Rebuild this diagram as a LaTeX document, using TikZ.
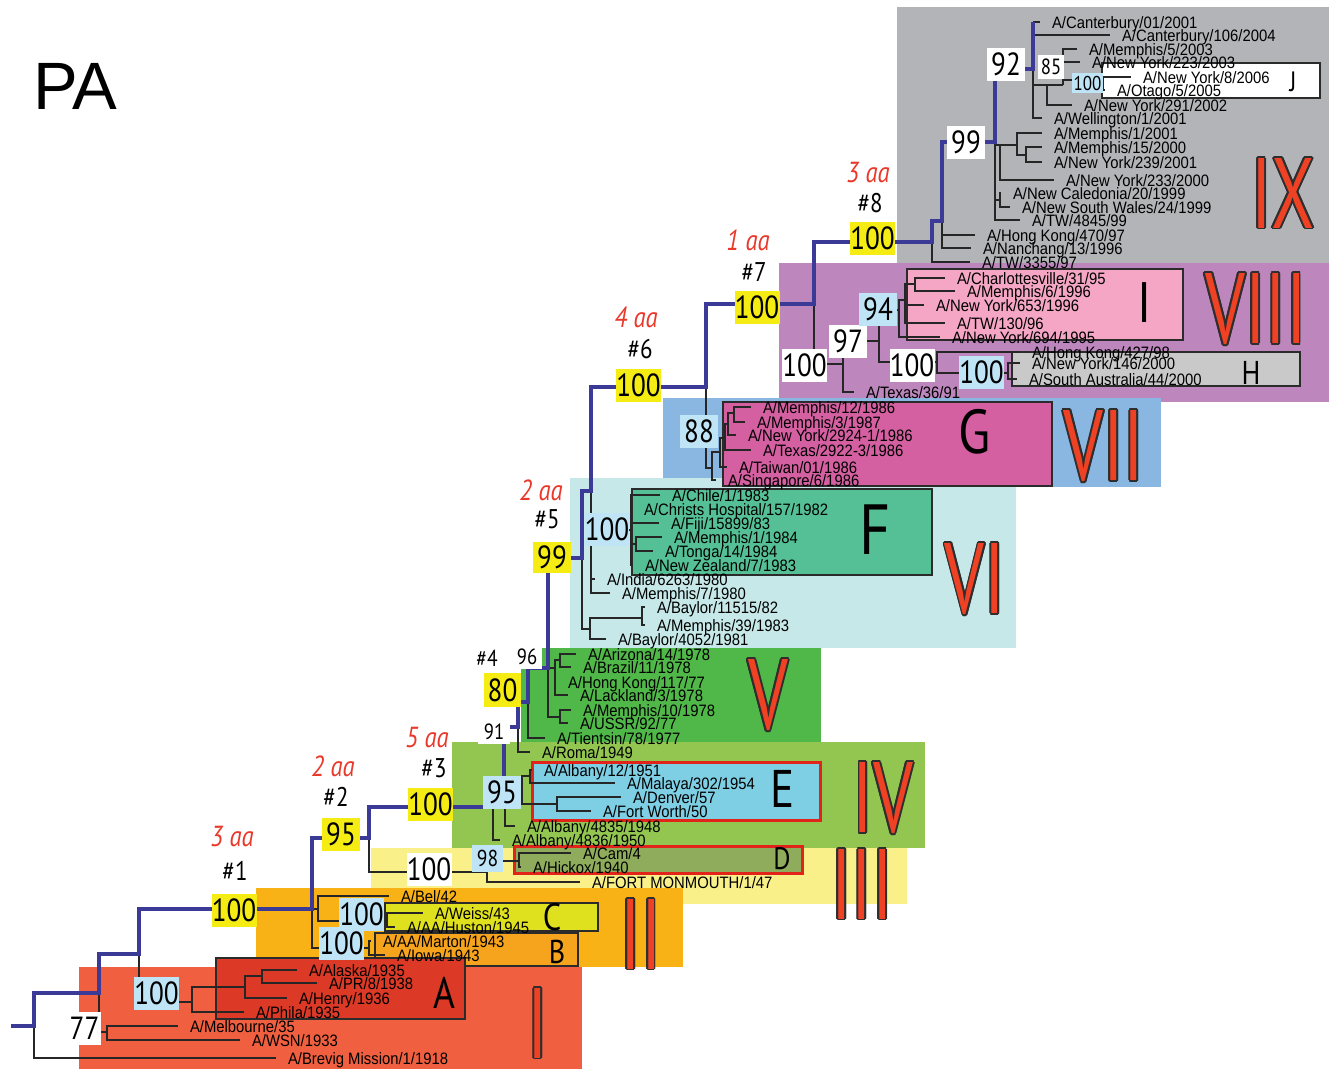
\documentclass[tikz,border=0pt]{standalone}
\usepackage{fontspec}
\setmainfont{Liberation Sans}
\newfontfamily\taxfont[FakeStretch=0.9]{Liberation Sans}
\newfontfamily\bsfont[FakeStretch=0.85]{PT Sans}
\newfontfamily\romfont[FakeStretch=0.7]{PT Sans}
\newfontfamily\letfont[FakeStretch=0.85]{PT Sans}
\usetikzlibrary{positioning}

\definecolor{cIX}{HTML}{B2B4B7}
\definecolor{cVIII}{HTML}{BD87BD}
\definecolor{cVII}{HTML}{8AB7E2}
\definecolor{cVI}{HTML}{C7E8E8}
\definecolor{cV}{HTML}{50B848}
\definecolor{cIV}{HTML}{93C650}
\definecolor{cIII}{HTML}{FAF08A}
\definecolor{cII}{HTML}{F9B215}
\definecolor{cI}{HTML}{F06040}
\definecolor{boxI}{HTML}{F4A6C4}
\definecolor{boxH}{HTML}{C9C9CA}
\definecolor{boxG}{HTML}{D45FA1}
\definecolor{boxF}{HTML}{55C096}
\definecolor{boxE}{HTML}{7ECFE4}
\definecolor{boxD}{HTML}{8EAC5B}
\definecolor{boxC}{HTML}{DFE11F}
\definecolor{boxB}{HTML}{F6A41E}
\definecolor{boxA}{HTML}{DC3A27}
\definecolor{boxline}{HTML}{2B2B2B}
\definecolor{boxred}{HTML}{E2231A}
\definecolor{bsyellow}{HTML}{F4EC12}
\definecolor{bsblue}{HTML}{BEE4F6}
\definecolor{spineblue}{HTML}{3B3A96}
\definecolor{aared}{HTML}{E8392B}
\definecolor{romred}{HTML}{EF4123}
\definecolor{romline}{HTML}{2E2E2E}

% outlined roman numeral: name, position, text
\newcommand{\romnum}[3]{%
  \foreach \a in {0,30,...,330}
    \node[romedge] (#1e\a) at ([shift={(\a:1.9)}]#2) {#3};
  \node[romfill] (#1) at (#2) {#3};
}

\begin{document}
\begin{tikzpicture}[x=1pt, y=-1pt,
  branch/.style={draw=black!85, line width=1.2pt},
  spine/.style={draw=spineblue, line width=3.3pt},
  taxon/.style={anchor=west, inner xsep=12pt, inner ysep=0pt, outer sep=0pt,
    text height=12pt, text depth=0pt, font=\taxfont\fontsize{16.5}{16.5}\selectfont},
  bs/.style={inner sep=0pt, minimum height=33pt, minimum width=45pt,
    font=\bsfont\fontsize{32}{32}\selectfont},
  bsy/.style={bs, fill=bsyellow},
  bsb/.style={bs, fill=bsblue},
  bsw/.style={bs, fill=white},
  bsmid/.style={font=\bsfont\fontsize{23}{23}\selectfont, minimum height=27pt, minimum width=31pt},
  bssmall/.style={font=\bsfont\fontsize{22}{22}\selectfont, minimum height=24pt, minimum width=32pt},
  stepno/.style={inner sep=0pt, font=\bsfont\fontsize{27}{27}\selectfont},
  aachg/.style={inner sep=0pt, text=aared, font=\bsfont\itshape\fontsize{29}{29}\selectfont},
  cladebox/.style={draw=boxline, line width=2.4pt},
  redbox/.style={draw=boxred, line width=3pt},
  cladeletter/.style={inner sep=0pt, font=\letfont\fontsize{#1}{#1}\selectfont},
  romfill/.style={inner sep=0pt, text=romred, font=\romfont\fontsize{100}{100}\selectfont},
  romedge/.style={romfill, text=romline}
]
\useasboundingbox (0,0) rectangle (1329,1069);

% clade backgrounds
\fill[cIX] (897,7) rectangle (1329,265);
\fill[cVIII] (779,263) rectangle (1329,402);
\fill[cVII] (663,398) rectangle (1161,487);
\fill[cVI] (570,478) rectangle (1016,648);
\fill[cV] (521,648) rectangle (821,742);
\fill[cIV] (452,742) rectangle (925,848);
\fill[cIII] (371,848) rectangle (907,904);
\fill[cII] (256,888) rectangle (683,967);
\fill[cI] (79,967) rectangle (582,1069);

% sub-clade boxes
\draw[cladebox, fill=white] (1102,63) rectangle (1320,98);
\draw[cladebox, fill=boxI] (907,269) rectangle (1183,340);
\draw[cladebox, fill=boxH] (1012,352) rectangle (1300,386);
\draw[cladebox, fill=boxG] (723,402) rectangle (1052,486);
\draw[cladebox, fill=boxF] (632,489) rectangle (932,575);
\draw[redbox, fill=boxE] (532,762) rectangle (820,820);
\draw[redbox, fill=boxD] (514,846) rectangle (802,873);
\draw[cladebox, fill=boxB] (375,933) rectangle (578,966);
\draw[cladebox, fill=boxC] (385,903) rectangle (598,931);
\draw[cladebox, fill=boxA] (216,958) rectangle (465,1019);

% internal nodes
\coordinate (stem) at (11,1026);
\coordinate (r0) at (34,1026);
\coordinate (n1) at (99,993);
\coordinate (n77) at (107,1032);
\coordinate (n2) at (139,954);
\coordinate (nA) at (192,1002);
\coordinate (nA2) at (245,987);
\coordinate (nA3) at (262,976);
\coordinate (n3) at (312,909);
\coordinate (nBel) at (318,909);
\coordinate (nC) at (387,921);
\coordinate (nB) at (369,948);
\coordinate (n4) at (369,838);
\coordinate (nIII) at (487,872);
\coordinate (nD) at (519,861);
\coordinate (n5) at (504,807);
\coordinate (nIV) at (493,808);
\coordinate (nIV2) at (505,808);
\coordinate (nE) at (522,790);
\coordinate (nE1) at (530,776);
\coordinate (nE2) at (557,804);
\coordinate (n6) at (518,727);
\coordinate (n7) at (528,702);
\coordinate (n8) at (548,668);
\coordinate (nV1) at (555,668);
\coordinate (nV1a) at (560,660);
\coordinate (nV3) at (560,717);
\coordinate (n10) at (582,558);
\coordinate (nVIb) at (590,629);
\coordinate (nVIc) at (642,618);
\coordinate (n11) at (591,491);
\coordinate (nF) at (631,530);
\coordinate (nF2) at (636,544);
\coordinate (n12) at (706,387);
\coordinate (nG1) at (712,468);
\coordinate (nG2) at (720,452);
\coordinate (nG3) at (725,438);
\coordinate (nG4) at (728,424);
\coordinate (nG5) at (734,413);
\coordinate (n13) at (814,304);
\coordinate (nVIII) at (843,364);
\coordinate (n97) at (879,341);
\coordinate (n94) at (899,310);
\coordinate (nI1) at (905,300);
\coordinate (nI2) at (915,284);
\coordinate (nH0) at (937,362);
\coordinate (nH) at (1008,373);
\coordinate (n14) at (932,242);
\coordinate (n15) at (942,221);
\coordinate (n16) at (942,190);
\coordinate (n17) at (995,142);
\coordinate (n17b) at (1000,145);
\coordinate (nM) at (1017,145);
\coordinate (nM2) at (1026,155);
\coordinate (nNC) at (1000,200);
\coordinate (n18) at (1033,69);
\coordinate (nNY) at (1047,85);
\coordinate (n85) at (1063,85);
\coordinate (nJ) at (1103,80);
\coordinate (ctop) at (1033,22);

% taxa, clade I
\node[taxon] (tBrevig) at (276,1058) {A/Brevig Mission/1/1918};
\node[taxon] (tMelb) at (178,1026) {A/Melbourne/35};
\node[taxon] (tWSN) at (240,1040) {A/WSN/1933};
\node[taxon] (tPhila) at (244,1012) {A/Phila/1935};
\node[taxon] (tHenry) at (287,998) {A/Henry/1936};
\node[taxon] (tAlaska) at (297,970) {A/Alaska/1935};
\node[taxon] (tPR8) at (317,983) {A/PR/8/1938};
% clade II
\node[taxon] (tBel) at (389,896) {A/Bel/42};
\node[taxon] (tWeiss) at (423,913) {A/Weiss/43};
\node[taxon] (tHuston) at (395,927) {A/AA/Huston/1945};
\node[taxon] (tMarton) at (371,941) {A/AA/Marton/1943};
\node[taxon] (tIowa) at (385,955) {A/Iowa/1943};
% clade III
\node[taxon] (tCam) at (571,853) {A/Cam/4};
\node[taxon] (tHickox) at (521,867) {A/Hickox/1940};
\node[taxon] (tFortM) at (580,882) {A/FORT MONMOUTH/1/47};
% clade IV
\node[taxon] (tAlb12) at (532,770) {A/Albany/12/1951};
\node[taxon] (tMalaya) at (615,783) {A/Malaya/302/1954};
\node[taxon] (tDenver) at (621,797) {A/Denver/57};
\node[taxon] (tFortW) at (591,811) {A/Fort Worth/50};
\node[taxon] (tAlb4835) at (515,826) {A/Albany/4835/1948};
\node[taxon] (tAlb4836) at (500,840) {A/Albany/4836/1950};
\node[taxon] (tRoma) at (530,752) {A/Roma/1949};
% clade V
\node[taxon] (tArizona) at (576,654) {A/Arizona/14/1978};
\node[taxon] (tBrazil) at (571,667) {A/Brazil/11/1978};
\node[taxon] (tHK117) at (556,682) {A/Hong Kong/117/77};
\node[taxon] (tLackland) at (568,695) {A/Lackland/3/1978};
\node[taxon] (tMem10) at (571,710) {A/Memphis/10/1978};
\node[taxon] (tUSSR) at (568,723) {A/USSR/92/77};
\node[taxon] (tTientsin) at (545,738) {A/Tientsin/78/1977};
% clade VI
\node[taxon] (tChile) at (660,495) {A/Chile/1/1983};
\node[taxon] (tChrists) at (632,509) {A/Christs Hospital/157/1982};
\node[taxon] (tFiji) at (659,523) {A/Fiji/15899/83};
\node[taxon] (tMem1984) at (662,537) {A/Memphis/1/1984};
\node[taxon] (tTonga) at (653,551) {A/Tonga/14/1984};
\node[taxon] (tNZ) at (633,565) {A/New Zealand/7/1983};
\node[taxon] (tIndia) at (595,579) {A/India/6263/1980};
\node[taxon] (tMem7) at (610,593) {A/Memphis/7/1980};
\node[taxon] (tBay11515) at (645,607) {A/Baylor/11515/82};
\node[taxon] (tMem39) at (645,625) {A/Memphis/39/1983};
\node[taxon] (tBay4052) at (606,639) {A/Baylor/4052/1981};
% clade VII
\node[taxon] (tMem12) at (751,407) {A/Memphis/12/1986};
\node[taxon] (tMem3) at (745,422) {A/Memphis/3/1987};
\node[taxon] (tNY2924) at (736,435) {A/New York/2924-1/1986};
\node[taxon] (tTex2922) at (751,450) {A/Texas/2922-3/1986};
\node[taxon] (tTaiwan) at (727,467) {A/Taiwan/01/1986};
\node[taxon] (tSing) at (716,480) {A/Singapore/6/1986};
% clade VIII
\node[taxon] (tCharl) at (945,278) {A/Charlottesville/31/95};
\node[taxon] (tMem6) at (955,291) {A/Memphis/6/1996};
\node[taxon] (tNY653) at (924,305) {A/New York/653/1996};
\node[taxon] (tTW130) at (945,323) {A/TW/130/96};
\node[taxon] (tNY694) at (940,337) {A/New York/694/1995};
\node[taxon] (tHK427) at (1020,352) {A/Hong Kong/427/98};
\node[taxon] (tNY146) at (1020,363) {A/New York/146/2000};
\node[taxon] (tSA44) at (1017,379) {A/South Australia/44/2000};
\node[taxon] (tTex36) at (854,392) {A/Texas/36/91};
% clade IX
\node[taxon] (tCant01) at (1040,22) {A/Canterbury/01/2001};
\node[taxon] (tCant106) at (1110,35) {A/Canterbury/106/2004};
\node[taxon] (tMem5) at (1077,49) {A/Memphis/5/2003};
\node[taxon] (tNY223) at (1080,62) {A/New York/223/2003};
\node[taxon] (tNY8) at (1131,77) {A/New York/8/2006};
\node[taxon] (tOtago) at (1105,90) {A/Otago/5/2005};
\node[taxon] (tNY291) at (1072,105) {A/New York/291/2002};
\node[taxon] (tWell) at (1042,118) {A/Wellington/1/2001};
\node[taxon] (tMem1) at (1042,133) {A/Memphis/1/2001};
\node[taxon] (tMem15) at (1042,147) {A/Memphis/15/2000};
\node[taxon] (tNY239) at (1042,162) {A/New York/239/2001};
\node[taxon] (tNY233) at (1054,180) {A/New York/233/2000};
\node[taxon] (tNewCal) at (1001,193) {A/New Caledonia/20/1999};
\node[taxon] (tNSW) at (1010,207) {A/New South Wales/24/1999};
\node[taxon] (tTW4845) at (1020,220) {A/TW/4845/99};
\node[taxon] (tHK470) at (975,235) {A/Hong Kong/470/97};
\node[taxon] (tNanchang) at (971,248) {A/Nanchang/13/1996};
\node[taxon] (tTW3355) at (970,262) {A/TW/3355/97};

% branches
\draw[branch] (r0) |- (tBrevig.west);
\draw[branch] (n1) |- (n77);
\draw[branch] (n77) |- (tMelb.west);
\draw[branch] (n77) |- (tWSN.west);
\draw[branch] (n2) |- (nA);
\draw[branch] (nA) |- (tPhila.west);
\draw[branch] (nA) |- (nA2);
\draw[branch] (nA2) |- (tHenry.west);
\draw[branch] (nA2) |- (nA3);
\draw[branch] (nA3) |- (tAlaska.west);
\draw[branch] (nA3) |- (tPR8.west);
\draw[branch] (n3) -- (nBel);
\draw[branch] (n3) |- (nB);
\draw[branch] (nBel) |- (tBel.west);
\draw[branch] (nBel) |- (nC);
\draw[branch] (nC) |- (tWeiss.west);
\draw[branch] (nC) |- (tHuston.west);
\draw[branch] (nB) |- (tMarton.west);
\draw[branch] (nB) |- (tIowa.west);
\draw[branch] (n4) |- (nIII);
\draw[branch] (nIII) |- (tFortM.west);
\draw[branch] (nIII) |- (nD);
\draw[branch] (nD) |- (tCam.west);
\draw[branch] (nD) |- (tHickox.west);
\draw[branch] (nIV) |- (tAlb4836.west);
\draw[branch] (nIV2) |- (tAlb4835.west);
\draw[branch] (nIV2) |- (nE);
\draw[branch] (nE) |- (nE1);
\draw[branch] (nE) |- (nE2);
\draw[branch] (nE1) |- (tAlb12.west);
\draw[branch] (nE1) |- (tMalaya.west);
\draw[branch] (nE2) |- (tDenver.west);
\draw[branch] (nE2) |- (tFortW.west);
\draw[branch] (n6) |- (tRoma.west);
\draw[branch] (n7) |- (tTientsin.west);
\draw[branch] (n8) -- (nV1);
\draw[branch] (n8) |- (nV3);
\draw[branch] (nV1) |- (nV1a);
\draw[branch] (nV1) |- (tHK117.west);
\draw[branch] (nV1) |- (tLackland.west);
\draw[branch] (nV1a) |- (tArizona.west);
\draw[branch] (nV1a) |- (tBrazil.west);
\draw[branch] (nV3) |- (tMem10.west);
\draw[branch] (nV3) |- (tUSSR.west);
\draw[branch] (n10) |- (nVIb);
\draw[branch] (nVIb) |- (nVIc);
\draw[branch] (nVIb) |- (tBay4052.west);
\draw[branch] (nVIc) |- (tBay11515.west);
\draw[branch] (nVIc) |- (tMem39.west);
\draw[branch] (n11) |- (nF);
\draw[branch] (n11) |- (tIndia.west);
\draw[branch] (n11) |- (tMem7.west);
\draw[branch] (nF) |- (tChile.west);
\draw[branch] (nF) |- (tChrists.west);
\draw[branch] (nF) |- (tFiji.west);
\draw[branch] (nF) |- (nF2);
\draw[branch] (nF) |- (tNZ.west);
\draw[branch] (nF2) |- (tMem1984.west);
\draw[branch] (nF2) |- (tTonga.west);
\draw[branch] (n12) |- (nG1);
\draw[branch] (nG1) |- (tSing.west);
\draw[branch] (nG1) |- (nG2);
\draw[branch] (nG2) |- (tTaiwan.west);
\draw[branch] (nG2) |- (nG3);
\draw[branch] (nG3) |- (tTex2922.west);
\draw[branch] (nG3) |- (nG4);
\draw[branch] (nG4) |- (tNY2924.west);
\draw[branch] (nG4) |- (nG5);
\draw[branch] (nG5) |- (tMem12.west);
\draw[branch] (nG5) |- (tMem3.west);
\draw[branch] (n13) |- (nVIII);
\draw[branch] (nVIII) |- (tTex36.west);
\draw[branch] (nVIII) |- (n97);
\draw[branch] (n97) |- (n94);
\draw[branch] (n97) |- (nH0);
\draw[branch] (n94) |- (nI1);
\draw[branch] (n94) |- (tNY694.west);
\draw[branch] (nI1) |- (nI2);
\draw[branch] (nI1) |- (tNY653.west);
\draw[branch] (nI1) |- (tTW130.west);
\draw[branch] (nI2) |- (tCharl.west);
\draw[branch] (nI2) |- (tMem6.west);
\draw[branch] (nH0) |- (tHK427.west);
\draw[branch] (nH0) |- (nH);
\draw[branch] (nH) |- (tNY146.west);
\draw[branch] (nH) |- (tSA44.west);
\draw[branch] (n14) |- (tTW3355.west);
\draw[branch] (n15) |- (tNanchang.west);
\draw[branch] (n16) |- (tHK470.west);
\draw[branch] (n17) |- (tTW4845.west);
\draw[branch] (n17) |- (nNC);
\draw[branch] (n17) |- (n17b);
\draw[branch] (n17b) -- (nM);
\draw[branch] (n17b) |- (tNY233.west);
\draw[branch] (nM) |- (tMem1.west);
\draw[branch] (nM) |- (nM2);
\draw[branch] (nM2) |- (tMem15.west);
\draw[branch] (nM2) |- (tNY239.west);
\draw[branch] (nNC) |- (tNewCal.west);
\draw[branch] (nNC) |- (tNSW.west);
\draw[branch] (n18) |- (tCant106.west);
\draw[branch] (n18) |- (tWell.west);
\draw[branch] (n18) |- (nNY);
\draw[branch] (nNY) |- (tNY291.west);
\draw[branch] (nNY) -- (n85);
\draw[branch] (n85) |- (tMem5.west);
\draw[branch] (n85) |- (tNY223.west);
\draw[branch] (n85) |- (nJ);
\draw[branch] (nJ) |- (tNY8.west);
\draw[branch] (nJ) |- (tOtago.west);
\draw[branch] (ctop) -- (tCant01.west);

% backbone
\draw[spine] (stem) -- (r0) |- (n1) |- (n2) |- (n3) |- (n4) |- (n5) |- (n6) |- (n7)
  |- (n8) |- (n10) |- (n11) |- (n12) |- (n13) |- (n14) |- (n15) |- (n17) |- (n18) -- (ctop);

% bootstrap values
\node[bsw, minimum width=33pt] (b77) at (84.5,1028) {77};
\node[bsb] (bA) at (156.5,993.5) {100};
\node[bsy] (b1) at (234,910.5) {100};
\node[bsb] (bB) at (341.5,943) {100};
\node[bsb] (bC) at (361.5,914.5) {100};
\node[bsy, minimum width=38pt] (b2) at (341,834.5) {95};
\node[bsw] (bIII) at (429,869.5) {100};
\node[bsb, bsmid] (bD) at (487.5,858.5) {98};
\node[bsy] (b3) at (430.5,804.5) {100};
\node[bsb, minimum width=38pt] (bE) at (502,792) {95};
\node[bsw, bssmall] (b91) at (494,732) {91};
\node[bsy, minimum width=37pt, minimum height=34pt] (b4) at (502.5,690) {80};
\node[bsw, bssmall, minimum width=29pt] (b96) at (527,657) {96};
\node[bsy, minimum width=38pt, minimum height=31pt] (b5) at (552,557.5) {99};
\node[bsb, minimum width=40pt] (bF) at (607,529) {100};
\node[bsb, minimum width=38pt] (bG) at (699,431) {88};
\node[bsy] (b6) at (638.5,385.5) {100};
\node[bsw] (bVIII) at (804.5,365.5) {100};
\node[bsw, minimum width=38pt] (b97) at (848,341) {97};
\node[bsb, minimum width=38pt] (b94) at (878,309.5) {94};
\node[bsw] (bH0) at (912,365.5) {100};
\node[bsb] (bH) at (981.5,372) {100};
\node[bsy] (b7) at (757,307) {100};
\node[bsy] (b8) at (872.5,238.5) {100};
\node[bsw, minimum width=38pt] (b99) at (966,142.5) {99};
\node[bsw, minimum width=38pt] (b92) at (1006,64) {92};
\node[bsw, bssmall, minimum width=26pt] (b85) at (1051,66.5) {85};
\node[bsb, bssmall, minimum width=31pt, minimum height=20pt,
  font=\bsfont\fontsize{20}{20}\selectfont] (bJ) at (1087.5,83) {100};

% mutation steps along the backbone
\node[aachg] (a1) at (232,837) {3 aa};
\node[stepno] (s1) at (235,871) {\#1};
\node[aachg] (a2) at (333,766) {2 aa};
\node[stepno] (s2) at (336,797) {\#2};
\node[aachg] (a3) at (427,738) {5 aa};
\node[stepno] (s3) at (434,768) {\#3};
\node[stepno, font=\bsfont\fontsize{23}{23}\selectfont] (s4) at (487,658) {\#4};
\node[aachg] (a5) at (541,490) {2 aa};
\node[stepno] (s5) at (547,519) {\#5};
\node[aachg] (a6) at (636,317) {4 aa};
\node[stepno] (s6) at (640,349) {\#6};
\node[aachg] (a7) at (748,240) {1 aa};
\node[stepno] (s7) at (754,272) {\#7};
\node[aachg] (a8) at (868,173) {3 aa};
\node[stepno] (s8) at (870,203) {\#8};

% sub-clade letters
\node[cladeletter=28] (lJ) at (1293,82) {J};
\node[cladeletter=57] (lI) at (1145,303) {I};
\node[cladeletter=33] (lH) at (1251,373) {H};
\node[cladeletter=62] (lG) at (975,432) {G};
\node[cladeletter=71] (lF) at (875,530) {F};
\node[cladeletter=53] (lE) at (783,789) {E};
\node[cladeletter=31] (lD) at (782,859) {D};
\node[cladeletter=38] (lC) at (552,917) {C};
\node[cladeletter=33] (lB) at (557,952) {B};
\node[cladeletter=44] (lA) at (444,993) {A};

% clade numerals
\romnum{rIX}{1283,193}{IX}
\romnum{rVIII}{1256,309}{VIII}
\romnum{rVII}{1104,446}{VII}
\romnum{rVI}{975,579}{VI}
\romnum{rV}{768,695}{V}
\romnum{rIV}{883,798}{IV}
\romnum{rIII}{862,884}{III}
\romnum{rII}{641,934}{II}
\romnum{rI}{538,1023}{I}

\node[anchor=west, inner sep=0pt, font=\fontsize{67}{67}\selectfont] (title) at (33,86) {PA};
\end{tikzpicture}
\end{document}
